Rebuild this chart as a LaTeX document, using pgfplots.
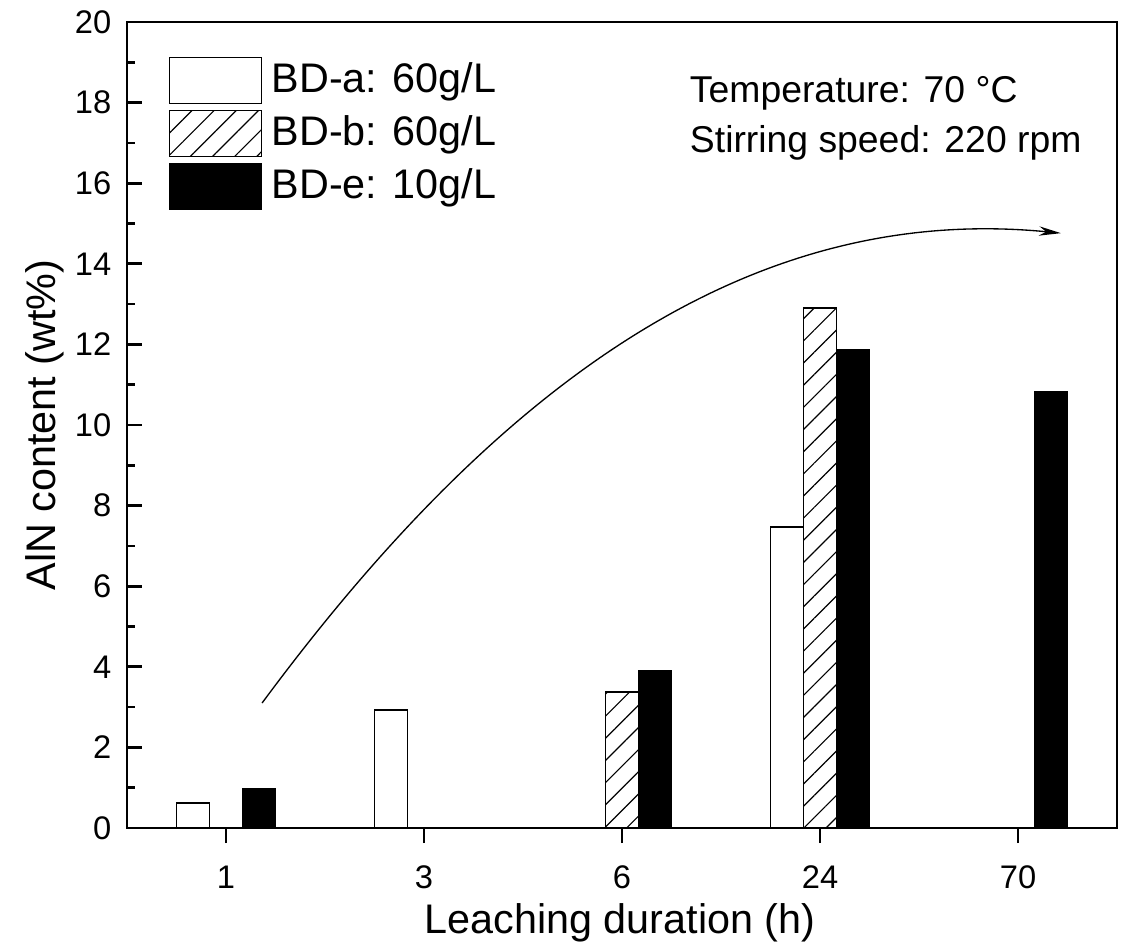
\documentclass[border=0pt]{standalone}
\usepackage{fontspec}
\setmainfont{Liberation Sans}
\usepackage{pgfplots}
\pgfplotsset{compat=1.18}
\usetikzlibrary{arrows.meta,patterns.meta}

% bar heights (wt%); x = category index
\begin{document}
\begin{tikzpicture}
\begin{axis}[
    name=ax,
    width=297pt, height=241.8pt, scale only axis,
    xmin=-0.5, xmax=4.5, ymin=0, ymax=20,
    xtick={0,1,2,3,4}, xticklabels={1,3,6,24,70},
    ytick distance=2, minor y tick num=1,
    xtick pos=bottom, ytick pos=left,
    tick align=inside,
    major tick length=4.5pt, minor tick length=2.3pt,
    every tick/.style={black, line width=0.8pt},
    axis line style={line width=0.8pt},
    /pgf/number format/assume math mode=true,
    ticklabel style={font=\fontsize{9.8}{11}\selectfont},
    yticklabel style={xshift=-1.2pt},
    xticklabel style={yshift=-3.4pt},
    xlabel={Leaching duration (h)},
    ylabel={AlN content (wt\%)},
    label style={font=\fontsize{12.4}{14}\selectfont},
    xlabel style={at={(axis description cs:0.498,-0.118)}, anchor=center},
    ylabel style={at={(axis description cs:-0.083,0.5)}, anchor=center},
    ybar, bar width=0.167,
    legend image code/.code={\draw[#1, line width=0.45pt] (0pt,-6.9pt) rectangle (27.6pt,6.9pt);},
    legend style={at={(axis description cs:0.0414,0.958)}, anchor=north west,
        draw=none, fill=none, inner sep=0pt, row sep=1.65pt, column sep=2.3pt,
        font=\fontsize{12.4}{14}\selectfont, nodes={inner sep=0.6pt}},
    legend cell align=left,
]
\addplot[bar shift=-0.167, draw=black, fill=white, line width=0.45pt]
    coordinates {(0,0.62) (1,2.93) (3,7.47)};
\addlegendentry{BD-a: 60g/L}
\addplot[bar shift=0, draw=black, line width=0.45pt,
    pattern={Lines[angle=45,distance=4.7pt,line width=0.35pt]}]
    coordinates {(2,3.37) (3,12.90)};
\addlegendentry{BD-b: 60g/L}
\addplot[bar shift=0.167, draw=black, fill=black, line width=0.45pt]
    coordinates {(0,0.97) (2,3.90) (3,11.86) (4,10.82)};
\addlegendentry{BD-e: 10g/L}

\draw[-{Stealth[length=6.6pt,width=2.8pt]}, line width=0.4pt]
    (axis cs:0.182,3.10) .. controls (axis cs:1.382,11.07) and (axis cs:2.652,15.51) .. (axis cs:4.217,14.76);
\node[anchor=base west, inner sep=0pt, font=\fontsize{11.2}{13}\selectfont]
    at (axis description cs:0.568,0.8995) {Temperature: 70 °C};
\node[anchor=base west, inner sep=0pt, font=\fontsize{11.2}{13}\selectfont]
    at (axis description cs:0.568,0.8375) {Stirring speed: 220 rpm};
\end{axis}
\pgfresetboundingbox
\path ([shift={(-38.1pt,-35.1pt)}]ax.south west) rectangle ([shift={(3.9pt,6.6pt)}]ax.north east);
\end{tikzpicture}
\end{document}
